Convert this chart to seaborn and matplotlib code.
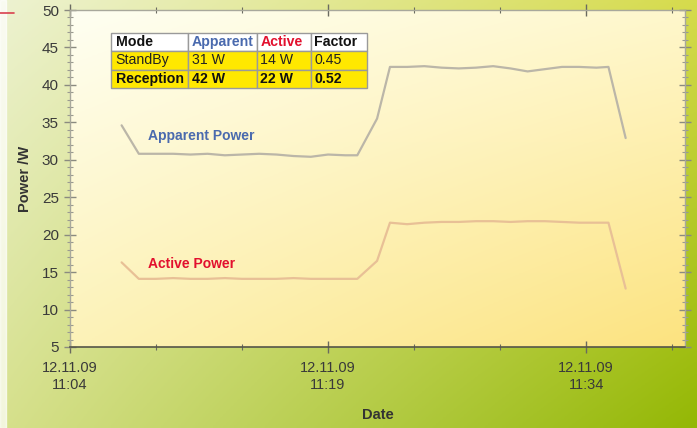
import numpy as np
import pandas as pd
import matplotlib
matplotlib.use("Agg")
import matplotlib.pyplot as plt
import matplotlib.dates as mdates
from matplotlib.lines import Line2D
import seaborn as sns

# ---- data ----
minutes = [3.0, 4.0, 5, 6, 7, 8, 9, 10, 11, 12, 13, 14, 15, 16, 16.7, 17.85, 18.6,
           19.6, 20.6, 21.6, 22.6, 23.6, 24.6, 25.6, 26.6, 27.6, 28.6, 29.6, 30.6, 31.3, 32.3]
apparent = [34.6, 30.8, 30.8, 30.8, 30.7, 30.8, 30.6, 30.7, 30.8, 30.7, 30.5, 30.4, 30.7, 30.6, 30.6,
            35.5, 42.4, 42.4, 42.5, 42.3, 42.2, 42.3, 42.5, 42.2, 41.8, 42.1, 42.4, 42.4, 42.3, 42.4, 32.9]
active = [16.3, 14.1, 14.1, 14.2, 14.1, 14.1, 14.2, 14.1, 14.1, 14.1, 14.2, 14.1, 14.1, 14.1, 14.1,
          16.5, 21.6, 21.4, 21.6, 21.7, 21.7, 21.8, 21.8, 21.7, 21.8, 21.8, 21.7, 21.6, 21.6, 21.6, 12.8]
start_time = "2009-11-12 11:04"
x_span_min = 35.75

table_cols = ["Mode", "Apparent", "Active", "Factor"]
table_rows = [["StandBy", "31 W", "14 W", "0.45"],
              ["Reception", "42 W", "22 W", "0.52"]]

series_names = ["Apparent Power", "Active Power"]

t0 = pd.Timestamp(start_time)
times = [t0 + pd.Timedelta(minutes=m) for m in minutes]
df = pd.DataFrame({
    "Date": times * 2,
    "Power": apparent + active,
    "Series": [series_names[0]] * len(times) + [series_names[1]] * len(times),
})

sns.set_theme(style="white")
plt.rcParams["font.family"] = ["Liberation Sans", "DejaVu Sans"]

W, H = 697, 428
fig = plt.figure(figsize=(W / 100, H / 100), dpi=100)

# figure background gradient
bg = fig.add_axes([0, 0, 1, 1], zorder=-10)
u = np.linspace(0, 1, 200)[None, :]
v = np.linspace(0, 1, 150)[:, None]
c_tl = np.array([0.93, 0.95, 0.82])
c_tr = np.array([0.84, 0.86, 0.30])
c_bl = np.array([0.84, 0.88, 0.55])
c_br = np.array([0.58, 0.72, 0.02])
img = ((1 - u) * (1 - v))[..., None] * c_tl + (u * (1 - v))[..., None] * c_tr + \
      ((1 - u) * v)[..., None] * c_bl + (u * v)[..., None] * c_br
bg.imshow(np.clip(img, 0, 1), aspect="auto", extent=[0, 1, 0, 1], origin="upper")
bg.add_patch(plt.Rectangle((0, 0), 6 / W, 1, color="white", alpha=0.7))
bg.set_axis_off()
fig.add_artist(Line2D([0, 14 / W], [1 - 13 / H, 1 - 13 / H], color="#d9414e", lw=1.2))

L, R, T, B = 70, 685, 10, 347
ax = fig.add_axes([L / W, 1 - B / H, (R - L) / W, (B - T) / H])

# plot area gradient
pa_tl = np.array([1.0, 1.0, 0.95])
pa_tr = np.array([1.0, 0.97, 0.80])
pa_bl = np.array([0.99, 0.95, 0.72])
pa_br = np.array([0.99, 0.89, 0.50])
u2 = np.linspace(0, 1, 200)[None, :]
v2 = np.linspace(0, 1, 150)[:, None]
img2 = ((1 - u2) * (1 - v2))[..., None] * pa_tl + (u2 * (1 - v2))[..., None] * pa_tr + \
       ((1 - u2) * v2)[..., None] * pa_bl + (u2 * v2)[..., None] * pa_br
x0n = mdates.date2num(t0)
x1n = mdates.date2num(t0 + pd.Timedelta(minutes=x_span_min))
ax.imshow(np.clip(img2, 0, 1), aspect="auto", extent=[x0n, x1n, 5, 50],
          origin="upper", zorder=0)

sns.lineplot(data=df, x="Date", y="Power", hue="Series", ax=ax,
             palette={series_names[0]: "#bbb6a8", series_names[1]: "#e8c096"},
             linewidth=1.6, legend=False, zorder=3)

ax.set_xlim(x0n, x1n)
ax.set_ylim(5, 50)
ax.set_yticks(np.arange(5, 51, 5))
ax.set_yticks(np.arange(5, 51, 1), minor=True)
ax.xaxis.set_major_locator(mdates.MinuteLocator(byminute=[4, 19, 34]))
ax.xaxis.set_minor_locator(mdates.MinuteLocator(byminute=list(range(4, 60, 5))))
ax.xaxis.set_major_formatter(mdates.DateFormatter("%d.%m.%y\n%H:%M"))

tick_font = ["Liberation Sans Narrow", "Liberation Sans", "DejaVu Sans"]
ax.tick_params(axis="y", which="major", direction="inout", length=8, width=1,
               color="#8a8a80", labelsize=11, labelcolor="#3a3a3a", pad=4,
               left=True, right=True)
ax.tick_params(axis="y", which="minor", direction="inout", length=4, width=0.8,
               color="#9a9a90", left=True, right=True)
ax.tick_params(axis="x", which="major", direction="inout", length=8, width=1,
               color="#6a6a60", labelsize=10.5, labelcolor="#3a3a3a", pad=6,
               bottom=True, top=True)
ax.tick_params(axis="x", which="minor", direction="inout", length=5, width=0.8,
               color="#6a6a60", bottom=True, top=True)
for lab in ax.get_xticklabels() + ax.get_yticklabels():
    lab.set_family(tick_font)
    lab.set_linespacing(1.25)

for side in ["top", "right", "left"]:
    ax.spines[side].set_color("#a8a89c")
    ax.spines[side].set_linewidth(1.0)
ax.spines["bottom"].set_color("#555548")
ax.spines["bottom"].set_linewidth(1.2)

ax.set_xlabel("Date", fontsize=10.5, fontweight="bold", color="#333333", labelpad=12,
              family=tick_font)
ax.set_ylabel("Power /W", fontsize=10.5, fontweight="bold", color="#333333", labelpad=7,
              family=tick_font)

ax.text(0.127, 0.626, series_names[0], transform=ax.transAxes, fontsize=10,
        fontweight="bold", color="#4a6aae", va="center", ha="left", zorder=5)
ax.text(0.127, 0.246, series_names[1], transform=ax.transAxes, fontsize=10,
        fontweight="bold", color="#e2102e", va="center", ha="left", zorder=5)

# table
tx0, ty0 = (111 - L) / (R - L), (B - 88) / (B - T)
tw, th = (367 - 111) / (R - L), (88 - 33) / (B - T)
cw = np.array([77, 69, 54, 56], dtype=float)
cw = cw / cw.sum()
yellow = "#ffe800"
tbl = ax.table(cellText=[table_cols] + table_rows,
               cellColours=[["white"] * 4, [yellow] * 4, [yellow] * 4],
               colWidths=list(cw), bbox=[tx0, ty0, tw, th], cellLoc="left",
               zorder=6)
tbl.auto_set_font_size(False)
header_colors = ["#111111", "#4a6aae", "#e2102e", "#111111"]
for (r, c), cell in tbl.get_celld().items():
    cell.set_edgecolor("#9a9a9a")
    cell.set_linewidth(1.0)
    cell.PAD = 0.06
    txt = cell.get_text()
    txt.set_fontsize(10.2)
    if r == 0:
        txt.set_fontweight("bold")
        txt.set_color(header_colors[c])
    elif r == 2:
        txt.set_fontweight("bold")
        txt.set_color("#111111")
    else:
        txt.set_color("#222222")

fig.savefig("out.png", dpi=100)
